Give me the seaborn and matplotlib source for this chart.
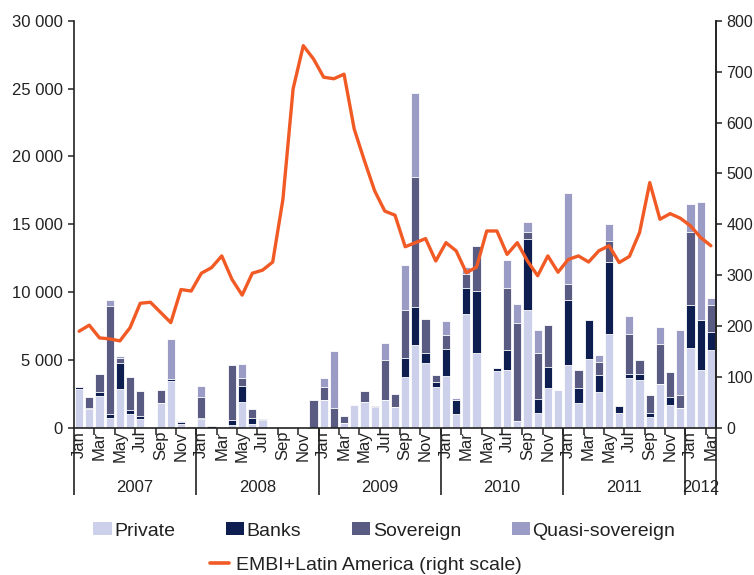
import numpy as np
import pandas as pd
import matplotlib
matplotlib.use("Agg")
import matplotlib.pyplot as plt
import matplotlib.transforms as mtransforms
from matplotlib.patches import Patch
from matplotlib.lines import Line2D
from matplotlib.ticker import FuncFormatter, MultipleLocator, FixedLocator
import seaborn as sns

# ---------------- data ----------------
years = ["2007", "2008", "2009", "2010", "2011", "2012"]
months_in_year = [12, 12, 12, 12, 12, 3]
month_names = ["Jan", "Feb", "Mar", "Apr", "May", "Jun",
               "Jul", "Aug", "Sep", "Oct", "Nov", "Dec"]

private = [2850, 1400, 2350, 710, 2870, 1030, 660, 0, 1820, 3450, 280, 120,
           660, 0, 0, 220, 1890, 320, 570, 0, 80, 0, 0, 0,
           2060, 0, 390, 1690, 1930, 1570, 2060, 1570, 3730, 6150, 4760, 2990,
           3840, 1010, 8430, 5540, 0, 4210, 4260, 540, 8670, 1080, 2920, 2790,
           4630, 1860, 5050, 2620, 6960, 1080, 3650, 3530, 790, 3210, 1690, 1450,
           5860, 4260, 5730]
banks = [150, 100, 320, 320, 1890, 320, 240, 0, 0, 130, 150, 0,
         80, 120, 0, 370, 1220, 400, 120, 0, 0, 0, 0, 0,
         0, 0, 0, 0, 0, 80, 0, 0, 1440, 2760, 780, 410,
         2010, 1050, 1910, 4540, 0, 180, 1470, 0, 5220, 1030, 1590, 0,
         4830, 1050, 2940, 1270, 5260, 560, 320, 440, 290, 0, 570, 0,
         3180, 3730, 1350]
sovereign = [0, 770, 1300, 7960, 410, 2380, 1840, 0, 980, 0, 80, 0,
             1540, 0, 100, 4020, 570, 710, 0, 0, 0, 0, 0, 2060,
             980, 1490, 490, 0, 790, 0, 2940, 910, 3510, 9560, 2460, 490,
             1030, 0, 1030, 3310, 0, 0, 4580, 7160, 540, 3430, 3070, 0,
             1180, 1360, 0, 960, 1540, 0, 2990, 1030, 1350, 3010, 1880, 980,
             5390, 0, 1960]
quasi = [0, 0, 0, 420, 130, 0, 0, 0, 0, 3010, 0, 0,
         790, 0, 0, 0, 1010, 0, 0, 0, 0, 0, 0, 0,
         620, 4210, 0, 0, 0, 0, 1270, 0, 3310, 6200, 0, 0,
         980, 130, 490, 0, 0, 0, 2040, 1420, 740, 1670, 0, 0,
         6690, 0, 0, 520, 1280, 0, 1270, 0, 0, 1220, 0, 4780,
         2040, 8630, 570]
embi = [190, 202, 177, 175, 171, 197, 245, 247, 227, 207, 272, 269,
        304, 315, 338, 292, 261, 304, 310, 326, 449, 666, 751, 725,
        689, 686, 695, 587, 525, 466, 426, 418, 356, 364, 372, 328,
        364, 348, 305, 316, 387, 387, 341, 364, 328, 299, 338, 306,
        331, 338, 326, 348, 358, 325, 337, 384, 482, 410, 421, 412,
        397, 374, 358]

series_names = ["Private", "Banks", "Sovereign", "Quasi-sovereign"]
line_name = "EMBI+Latin America (right scale)"

# ---------------- styling ----------------
sns.set_style("ticks")
plt.rcParams["font.family"] = ["Liberation Sans", "DejaVu Sans"]
TXT = "#222222"
colors = {"Private": "#CDD0EA", "Banks": "#0E1E50",
          "Sovereign": "#595B83", "Quasi-sovereign": "#9A9CC6"}
LINE_C = "#F15A24"

# build frame
keys, mlabels = [], []
for y, nm in zip(years, months_in_year):
    for m in range(nm):
        keys.append(f"{y}-{m+1:02d}")
        mlabels.append(month_names[m])
n = len(keys)
df = pd.DataFrame({"key": keys, "Private": private, "Banks": banks,
                   "Sovereign": sovereign, "Quasi-sovereign": quasi})
df["c1"] = df["Private"]
df["c2"] = df["c1"] + df["Banks"]
df["c3"] = df["c2"] + df["Sovereign"]
df["c4"] = df["c3"] + df["Quasi-sovereign"]

W, H = 754, 575
fig = plt.figure(figsize=(W / 100, H / 100), dpi=100)
L, R, T, B = 74, 716, 20.7, 428
ax = fig.add_axes([L / W, 1 - B / H, (R - L) / W, (B - T) / H])

for col, name in zip(["c4", "c3", "c2", "c1"],
                     ["Quasi-sovereign", "Sovereign", "Banks", "Private"]):
    sns.barplot(data=df, x="key", y=col, order=keys, color=colors[name],
                saturation=1, width=0.8, edgecolor="white", linewidth=0.6,
                ax=ax, errorbar=None)

ax.set_xlim(-0.5, n - 0.5)
ax.set_ylim(0, 30000)
ax.yaxis.set_major_locator(MultipleLocator(5000))
ax.yaxis.set_major_formatter(FuncFormatter(lambda v, _: f"{int(v):,}".replace(",", " ")))
ax.set_xlabel("")
ax.set_ylabel("")

# x ticks: label every other month
lab_pos = list(range(0, n, 2))
ax.xaxis.set_major_locator(FixedLocator(lab_pos))
ax.set_xticklabels([mlabels[i] for i in lab_pos], rotation=90, fontsize=12, color=TXT)
ax.tick_params(axis="x", which="major", length=0, pad=2)
ax.xaxis.set_minor_locator(FixedLocator(list(np.arange(1.5, n - 1, 2))))
ax.tick_params(axis="x", which="minor", length=5, width=1.1, color=TXT, direction="out")
ax.tick_params(axis="y", which="major", length=4, width=1.1, color=TXT,
               labelsize=12, labelcolor=TXT, pad=4)

for s in ["left", "bottom", "right"]:
    ax.spines[s].set_color(TXT)
    ax.spines[s].set_linewidth(1.2)
ax.spines["top"].set_visible(False)

# year separators and labels
trans = mtransforms.blended_transform_factory(ax.transData, ax.transAxes)
start = 0
bounds = [-0.5]
for y, nm in zip(years, months_in_year):
    center = start + (nm - 1) / 2
    ax.text(center, -0.145, y, transform=trans, ha="center", va="center",
            fontsize=12, color=TXT)
    start += nm
    bounds.append(start - 0.5)
for b in bounds:
    ax.plot([b, b], [0, -0.165], transform=trans, clip_on=False,
            color=TXT, lw=1.2, solid_capstyle="butt")

# right axis line
ax2 = ax.twinx()
sns.lineplot(x=np.arange(n), y=embi, ax=ax2, color=LINE_C, linewidth=2.4)
ax2.set_ylim(0, 800)
ax2.set_xlim(-0.5, n - 0.5)
ax2.yaxis.set_major_locator(MultipleLocator(100))
ax2.tick_params(axis="y", length=4, width=1.1, color=TXT, labelsize=11.5,
                labelcolor=TXT, pad=3.5)
for s in ["left", "bottom", "top"]:
    ax2.spines[s].set_visible(False)
ax2.spines["right"].set_color(TXT)
ax2.spines["right"].set_linewidth(1.2)

# legends
handles = [Patch(facecolor=colors[nm], edgecolor="none", label=nm) for nm in series_names]
fig.legend(handles=handles, ncol=4, loc="center left",
           bbox_to_anchor=(93 / W, 1 - 531 / H), frameon=False, fontsize=14,
           handlelength=0.96, handleheight=0.64, handletextpad=0.12,
           columnspacing=2.6, borderpad=0, borderaxespad=0, labelcolor=TXT)
fig.legend(handles=[Line2D([0], [0], color=LINE_C, lw=2.6, label=line_name)],
           loc="center left", bbox_to_anchor=(210.5 / W, 1 - 565 / H), frameon=False,
           fontsize=14, handlelength=0.96, handletextpad=0.36, borderpad=0,
           borderaxespad=0, labelcolor=TXT)

fig.savefig("out.png", dpi=100)
